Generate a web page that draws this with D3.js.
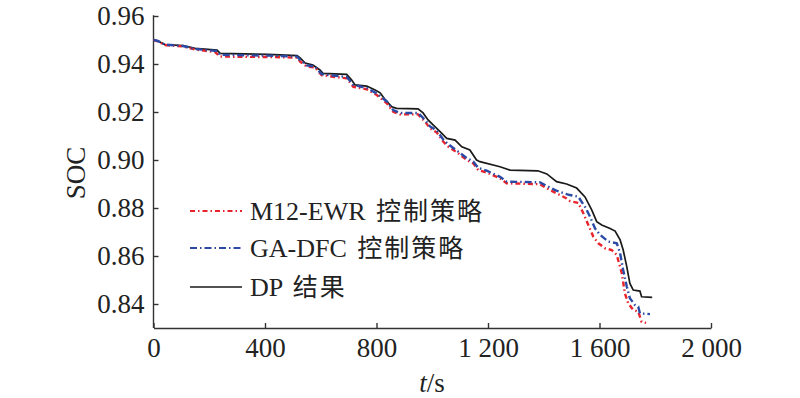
<!DOCTYPE html>
<html><head><meta charset="utf-8">
<script src="https://cdn.jsdelivr.net/npm/d3@7"></script>
<style>body{margin:0;background:#fff}svg{display:block}</style>
</head><body>
<svg id="c" width="800" height="398"></svg>
<script>
const xTicks = [0, 400, 800, 1200, 1600, 2000];
const yTicks = [0.84, 0.86, 0.88, 0.90, 0.92, 0.94, 0.96];
const seriesNames = ["M12-EWR", "GA-DFC", "DP"];
const legendLabels = [["M12-EWR ", "控制策略"], ["GA-DFC ", "控制策略"], ["DP ", "结果"]];

const dpT = [0,16,41,106,149,228,239,411,515,526,544,572,597,608,693,711,723,765,795,813,830,855,872,949,967,985,1003,1028,1052,1082,1106,1135,1159,1171,1243,1279,1379,1411,1446,1482,1518,1548,1572,1590,1608,1638,1656,1674,1685,1698,1709,1721,1745,1751,1789];
const dpV = [0.9500,0.9496,0.9481,0.9477,0.9465,0.9458,0.9444,0.9440,0.9435,0.9425,0.9404,0.9396,0.9375,0.9361,0.9357,0.9333,0.9313,0.9308,0.9292,0.9280,0.9253,0.9222,0.9215,0.9213,0.9196,0.9167,0.9146,0.9118,0.9090,0.9083,0.9055,0.9042,0.9000,0.8993,0.8972,0.8958,0.8955,0.8942,0.8910,0.8900,0.8883,0.8846,0.8792,0.8743,0.8729,0.8715,0.8704,0.8667,0.8625,0.8555,0.8486,0.8458,0.8454,0.8430,0.8428];

const gaT = [0,16,41,106,149,228,239,411,515,526,550,579,603,644,693,717,765,801,837,860,884,949,974,992,1016,1040,1058,1093,1124,1147,1165,1195,1243,1267,1387,1411,1446,1482,1494,1524,1548,1566,1584,1602,1632,1662,1674,1685,1698,1709,1727,1739,1745,1781];
const gaV = [0.9500,0.9496,0.9481,0.9475,0.9463,0.9454,0.9438,0.9435,0.9431,0.9417,0.9394,0.9390,0.9358,0.9352,0.9346,0.9313,0.9300,0.9277,0.9244,0.9208,0.9196,0.9196,0.9167,0.9140,0.9123,0.9085,0.9065,0.9035,0.9008,0.8994,0.8967,0.8956,0.8930,0.8910,0.8907,0.8892,0.8872,0.8858,0.8854,0.8847,0.8805,0.8764,0.8715,0.8688,0.8660,0.8653,0.8611,0.8542,0.8472,0.8424,0.8396,0.8389,0.8361,0.8358];

const mT = [0,16,41,106,149,221,239,411,515,526,550,579,603,644,693,717,765,801,837,860,884,949,974,992,1016,1040,1058,1093,1124,1147,1165,1195,1243,1267,1387,1411,1446,1482,1494,1524,1542,1560,1578,1596,1620,1644,1662,1680,1691,1703,1721,1739,1745,1751,1767];
const mV = [0.9500,0.9494,0.9479,0.9473,0.9460,0.9450,0.9431,0.9429,0.9427,0.9410,0.9389,0.9386,0.9354,0.9347,0.9340,0.9305,0.9295,0.9271,0.9236,0.9201,0.9190,0.9190,0.9160,0.9132,0.9115,0.9076,0.9055,0.9028,0.9000,0.8986,0.8958,0.8948,0.8924,0.8903,0.8899,0.8882,0.8861,0.8840,0.8829,0.8821,0.8778,0.8729,0.8680,0.8653,0.8632,0.8625,0.8604,0.8528,0.8445,0.8403,0.8375,0.8368,0.8347,0.8326,0.8321];

const svg = d3.select("#c");
const x = d3.scaleLinear().domain([0, 2000]).range([153.5, 711]);
const y = d3.scaleLinear().domain([0.83, 0.96]).range([328, 16]);
const serif = "'Liberation Serif','Times New Roman',serif";
const cjk = "'Noto Sans CJK SC',sans-serif";
const FS = 27;

const fmtX = d => d >= 1000 ? d3.format(",")(d).replace(",", " ") : String(d);

const gx = svg.append("g").attr("transform", "translate(0,328)")
  .call(d3.axisBottom(x).tickValues(xTicks).tickFormat(fmtX).tickSizeInner(-5).tickSizeOuter(0).tickPadding(10));
const gy = svg.append("g").attr("transform", "translate(153.5,0)")
  .call(d3.axisLeft(y).tickValues(yTicks).tickFormat(d3.format(".2f")).tickSizeInner(-5).tickSizeOuter(0).tickPadding(9));
[gx, gy].forEach(g => {
  g.select(".domain").attr("stroke", "#333").attr("stroke-width", 1.4);
  g.selectAll(".tick line").attr("stroke", "#333").attr("stroke-width", 1.4);
  g.selectAll(".tick text").attr("font-family", serif).attr("font-size", FS).attr("fill", "#222");
});
gy.select(".domain").attr("d", `M0,${y(0.83)}V${y(0.96)-0.7}`);

svg.append("text").attr("transform", `translate(85,173) rotate(-90)`)
  .attr("text-anchor", "middle").attr("font-family", serif).attr("font-size", FS).attr("fill", "#222").text("SOC");
const tl = svg.append("text").attr("x", 432).attr("y", 392).attr("text-anchor", "middle")
  .attr("font-family", serif).attr("font-size", FS).attr("fill", "#222");
tl.append("tspan").attr("font-style", "italic").text("t");
tl.append("tspan").text("/s");

const line = d3.line().x(d => x(d[0])).y(d => y(d[1]));
const series = [
  {t: dpT, v: dpV, color: "#1a1a1a", w: 1.7, dash: null},
  {t: mT, v: mV, color: "#e8232b", w: 2.4, dash: "5,3,1.5,3"},
  {t: gaT, v: gaV, color: "#2a4aa6", w: 2.4, dash: "7,3,1.5,3"}
];
series.forEach(s => {
  svg.append("path").datum(d3.zip(s.t, s.v)).attr("d", line)
    .attr("fill", "none").attr("stroke", s.color).attr("stroke-width", s.w)
    .attr("stroke-dasharray", s.dash);
});

const legStyles = [series[1], series[2], series[0]];
const legY = [211, 248, 287];
legStyles.forEach((s, i) => {
  svg.append("line").attr("x1", 190).attr("x2", 242).attr("y1", legY[i]).attr("y2", legY[i])
    .attr("stroke", s.color).attr("stroke-width", s === series[0] ? 1.6 : 2)
    .attr("stroke-dasharray", s.dash);
  const t = svg.append("text").attr("x", 250).attr("y", legY[i] + 9)
    .attr("font-family", serif).attr("font-size", 26).attr("fill", "#222");
  t.append("tspan").text(legendLabels[i][0]);
  t.append("tspan").attr("dx", 4).attr("font-family", cjk).attr("font-size", 25).attr("letter-spacing", 2).text(legendLabels[i][1]);
});
</script>
</body></html>
